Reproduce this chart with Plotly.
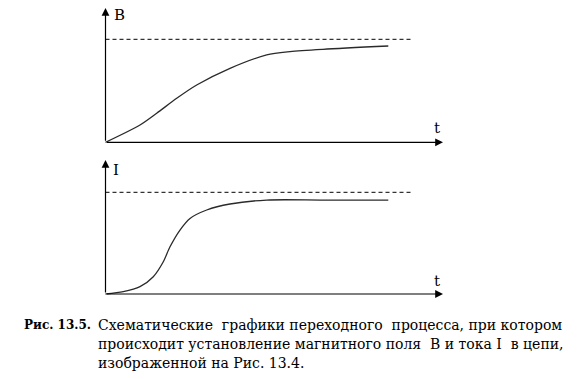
import plotly.graph_objects as go

# --- data (schematic) ---
t_B = [0, 1.022, 1.517, 2.110, 2.702, 3.689, 4.776, 5.467, 6.444, 8.379]
B_vals = [0, 0.168, 0.282, 0.427, 0.556, 0.718, 0.848, 0.880, 0.903, 0.935]

t_I = [0, 0.527, 1.022, 1.416, 1.713, 1.911, 2.207, 2.504, 2.999, 3.689, 4.776, 6.453, 8.379]
I_vals = [0, 0.023, 0.072, 0.17, 0.317, 0.464, 0.629, 0.743, 0.826, 0.885, 0.924, 0.924, 0.924]

B_limit = [1.0, 1.0]
I_limit = [1.0, 1.0]
t_limit = [0, 9.05]

t_axis_end = 10.0
B_axis_top = 1.304
I_axis_top = 1.318

caption_lines = [
    "Схематические  графики переходного  процесса, при котором",
    "происходит установление магнитного поля  B и тока I  в цепи,",
    "изображенной на Рис. 13.4.",
]
caption_label = "<b>Рис. 13.5.</b>"

W, H = 580, 379
serif = "DejaVu Serif"

fig = go.Figure()

curve_style = dict(color="#2a2a2a", width=1.3, shape="spline", smoothing=0.8)
dash_style = dict(color="black", width=1, dash="4px,3px")

fig.add_trace(go.Scatter(x=t_B, y=B_vals, mode="lines", line=curve_style, xaxis="x", yaxis="y", hoverinfo="skip"))
fig.add_trace(go.Scatter(x=t_limit, y=B_limit, mode="lines", line=dash_style, xaxis="x", yaxis="y", hoverinfo="skip"))
fig.add_trace(go.Scatter(x=t_I, y=I_vals, mode="lines", line=curve_style, xaxis="x2", yaxis="y2", hoverinfo="skip"))
fig.add_trace(go.Scatter(x=t_limit, y=I_limit, mode="lines", line=dash_style, xaxis="x2", yaxis="y2", hoverinfo="skip"))

k = 33.75
x0 = 105.5
xr = [-x0 / k, (W - x0) / k]

top_dom = [1 - 150 / H, 1]
top_rng = [(142.3 - 150) / 103, 142.3 / 103]
bot_dom = [1 - 300 / H, 1 - 150 / H]
bot_rng = [(294 - 300) / 101.7, (294 - 150) / 101.7]

ax_common = dict(visible=False, showgrid=False, zeroline=False, fixedrange=True)
fig.update_layout(
    width=W, height=H,
    margin=dict(l=0, r=0, t=0, b=0),
    paper_bgcolor="white", plot_bgcolor="white",
    showlegend=False,
    font=dict(family=serif),
    xaxis=dict(domain=[0, 1], range=xr, anchor="y", **ax_common),
    yaxis=dict(domain=top_dom, range=top_rng, anchor="x", **ax_common),
    xaxis2=dict(domain=[0, 1], range=xr, anchor="y2", **ax_common),
    yaxis2=dict(domain=bot_dom, range=bot_rng, anchor="x2", **ax_common),
)

def axis_arrow(xref, yref, x, y, ax, ay):
    fig.add_annotation(x=x, y=y, ax=ax, ay=ay, xref=xref, yref=yref,
                       axref=xref, ayref=yref, text="", showarrow=True,
                       arrowhead=2, arrowsize=1.3, arrowwidth=1.2, arrowcolor="black",
                       standoff=0, startstandoff=0)

axis_arrow("x", "y", 0, B_axis_top, 0, 0)
axis_arrow("x", "y", t_axis_end, 0, 0, 0)
axis_arrow("x2", "y2", 0, I_axis_top, 0, 0)
axis_arrow("x2", "y2", t_axis_end, 0, 0, 0)

lab_font = dict(family=serif, size=15, color="black")
fig.add_annotation(x=(119.5 - x0) / k, y=(142.3 - 14.5) / 103, xref="x", yref="y",
                   text="B", showarrow=False, font=lab_font)
fig.add_annotation(x=(437 - x0) / k, y=(142.3 - 128) / 103, xref="x", yref="y",
                   text="t", showarrow=False, font=lab_font)
fig.add_annotation(x=(116 - x0) / k, y=(294 - 170) / 101.7, xref="x2", yref="y2",
                   text="I", showarrow=False, font=lab_font)
fig.add_annotation(x=(437 - x0) / k, y=(294 - 281) / 101.7, xref="x2", yref="y2",
                   text="t", showarrow=False, font=lab_font)

fig.add_annotation(x=22 / W, y=1 - 325 / H, xref="paper", yref="paper",
                   xanchor="left", yanchor="middle", text=caption_label,
                   showarrow=False, font=dict(family=serif, size=12, color="black"))
cap_font = dict(family=serif, size=14, color="black")
for line, yc in zip(caption_lines, [325, 344, 363]):
    fig.add_annotation(x=96 / W, y=1 - yc / H, xref="paper", yref="paper",
                       xanchor="left", yanchor="middle", text=line,
                       showarrow=False, font=cap_font)

fig.write_html("out.html", config={"displayModeBar": False},
               post_script="document.body.style.margin='0px';document.body.style.overflow='hidden';")
